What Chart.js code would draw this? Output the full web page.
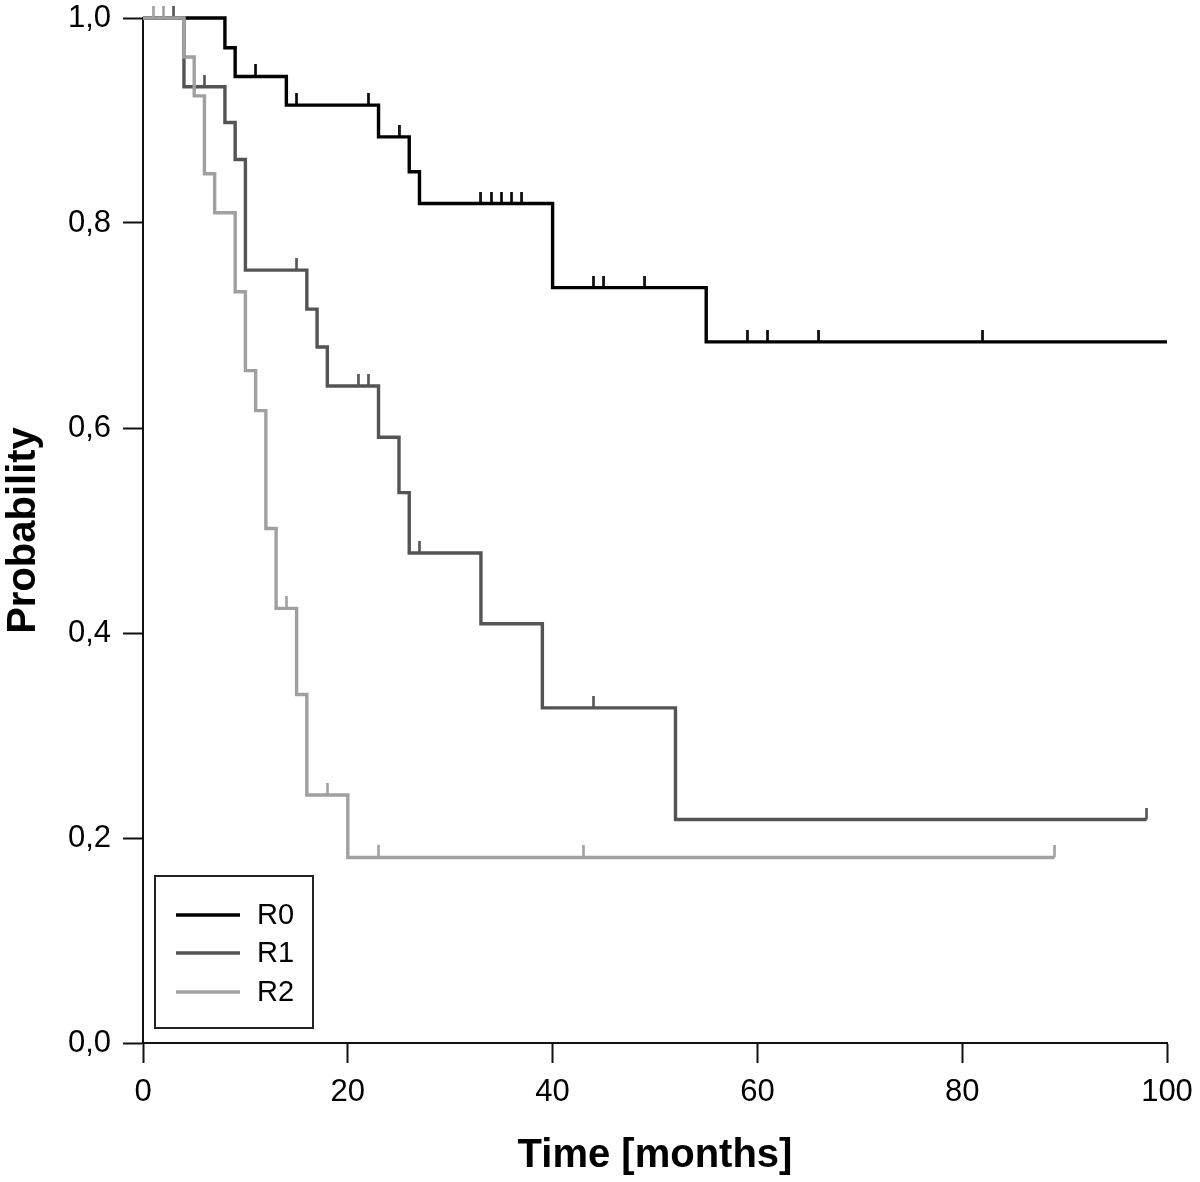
<!DOCTYPE html>
<html><head><meta charset="utf-8">
<script src="https://cdn.jsdelivr.net/npm/chart.js@4/dist/chart.umd.min.js"></script>
<style>html,body{margin:0;padding:0;background:#fff}canvas{display:block}</style>
</head><body>
<canvas id="c" width="1200" height="1182"></canvas>
<script>
// ---- data ----
const seriesNames = ['R0', 'R1', 'R2'];

const r0Times = [0, 8, 9, 14, 23, 26, 27, 40, 55];
const r0Surv  = [1.0, 0.971, 0.943, 0.915, 0.884, 0.850, 0.819, 0.737, 0.684];
const r0End = 100;
const r0Censored = [11, 15, 22, 25, 33, 34, 35, 36, 37, 44, 45, 49, 59, 61, 66, 82];

const r1Times = [0, 4, 8, 9, 10, 16, 17, 18, 23, 25, 26, 33, 39, 52];
const r1Surv  = [1.0, 0.933, 0.898, 0.862, 0.754, 0.716, 0.679, 0.641, 0.591, 0.537, 0.478, 0.409, 0.327, 0.218];
const r1End = 98;
const r1Censored = [3, 6, 15, 21, 22, 27, 44, 98];

const r2Times = [0, 4, 5, 6, 7, 9, 10, 11, 12, 13, 15, 16, 20];
const r2Surv  = [1.0, 0.962, 0.924, 0.848, 0.810, 0.733, 0.656, 0.617, 0.502, 0.424, 0.340, 0.242, 0.181];
const r2End = 89;
const r2Censored = [1, 2, 14, 18, 23, 43, 89];

const xTickValues = [0, 20, 40, 60, 80, 100];
const yTickValues = [0, 0.2, 0.4, 0.6, 0.8, 1.0];
const yTickLabels = ['0,0', '0,2', '0,4', '0,6', '0,8', '1,0'];

const seriesColors = ['#000000', '#545454', '#a0a0a0'];

// ---- helpers ----
function stepPoints(times, surv, end) {
  const pts = times.map((t, i) => ({x: t, y: surv[i]}));
  pts.push({x: end, y: surv[surv.length - 1]});
  return pts;
}
function survAt(times, surv, t) {
  let v = surv[0];
  for (let i = 0; i < times.length; i++) if (times[i] <= t) v = surv[i];
  return v;
}
function censorPoints(times, surv, cens) {
  return cens.map(c => ({x: c, y: survAt(times, surv, c)}));
}
function tickImage(color) {
  const cv = document.createElement('canvas');
  cv.width = 3; cv.height = 24;
  const g = cv.getContext('2d');
  g.fillStyle = color;
  g.fillRect(0.2, 0, 2.6, 12);
  return cv;
}
function noPad(s) {
  s.paddingTop = 0; s.paddingBottom = 0; s.paddingLeft = 0; s.paddingRight = 0;
}

const lineSets = [
  {times: r0Times, surv: r0Surv, end: r0End, cens: r0Censored},
  {times: r1Times, surv: r1Surv, end: r1End, cens: r1Censored},
  {times: r2Times, surv: r2Surv, end: r2End, cens: r2Censored}
];

const datasets = [];
lineSets.forEach((s, i) => {
  datasets.push({
    label: seriesNames[i],
    data: stepPoints(s.times, s.surv, s.end),
    borderColor: seriesColors[i],
    backgroundColor: seriesColors[i],
    borderWidth: 3.4,
    stepped: 'before',
    pointRadius: 0,
    fill: false,
    clip: false,
    order: 2 - i
  });
  datasets.push({
    label: seriesNames[i] + ' censored',
    type: 'scatter',
    data: censorPoints(s.times, s.surv, s.cens),
    pointStyle: tickImage(seriesColors[i]),
    pointRadius: 6,
    showLine: false,
    clip: false,
    order: 2 - i
  });
});

const legendPlugin = {
  id: 'kmLegend',
  afterDraw(chart) {
    const ctx = chart.ctx;
    const a = chart.chartArea;
    const bx = a.left + 12, bw = 158, bh = 152;
    const by = a.bottom - 15 - bh;
    ctx.save();
    ctx.strokeStyle = '#222';
    ctx.lineWidth = 2;
    ctx.strokeRect(bx, by, bw, bh);
    const rows = [39, 77, 116];
    ctx.font = "29px 'Liberation Sans', Arial, sans-serif";
    ctx.textBaseline = 'middle';
    ctx.textAlign = 'left';
    seriesNames.forEach((n, i) => {
      const y = by + rows[i];
      ctx.strokeStyle = seriesColors[i];
      ctx.lineWidth = 3.4;
      ctx.beginPath();
      ctx.moveTo(bx + 21, y);
      ctx.lineTo(bx + 85, y);
      ctx.stroke();
      ctx.fillStyle = '#000';
      ctx.fillText(n, bx + 102, y + 1);
    });
    ctx.restore();
  }
};

Chart.defaults.font.family = "'Liberation Sans', Arial, Helvetica, sans-serif";
Chart.defaults.color = '#000';

new Chart(document.getElementById('c'), {
  type: 'line',
  data: {datasets},
  options: {
    responsive: false,
    animation: false,
    devicePixelRatio: 1,
    layout: {padding: {top: 18, right: 33, left: 0, bottom: 0}},
    plugins: {legend: {display: false}, tooltip: {enabled: false}},
    scales: {
      x: {
        type: 'linear',
        min: 0, max: 100,
        afterBuildTicks: s => { s.ticks = xTickValues.map(v => ({value: v})); },
        afterFit: s => { s.height = 139; noPad(s); },
        ticks: {font: {size: 31}, color: '#000', padding: 11, maxRotation: 0, autoSkip: false},
        grid: {display: true, drawOnChartArea: false, drawTicks: true, tickLength: 20, tickWidth: 2, tickColor: '#111'},
        border: {display: true, color: '#111', width: 2},
        title: {display: true, text: 'Time [months]', color: '#000',
                font: {size: 40, weight: 'bold'}, padding: {top: 0, bottom: 2}}
      },
      y: {
        type: 'linear',
        min: 0, max: 1,
        afterBuildTicks: s => { s.ticks = yTickValues.map(v => ({value: v})); },
        afterFit: s => { s.width = 143; noPad(s); },
        ticks: {font: {size: 31}, color: '#000', padding: 12, autoSkip: false,
                callback: (v, i) => yTickLabels[i]},
        grid: {display: true, drawOnChartArea: false, drawTicks: true, tickLength: 20, tickWidth: 2, tickColor: '#111'},
        border: {display: true, color: '#111', width: 2},
        title: {display: true, text: 'Probability', color: '#000',
                font: {size: 40, weight: 'bold'}, padding: {top: 0, bottom: 0}}
      }
    }
  },
  plugins: [legendPlugin]
});
</script>
</body></html>
